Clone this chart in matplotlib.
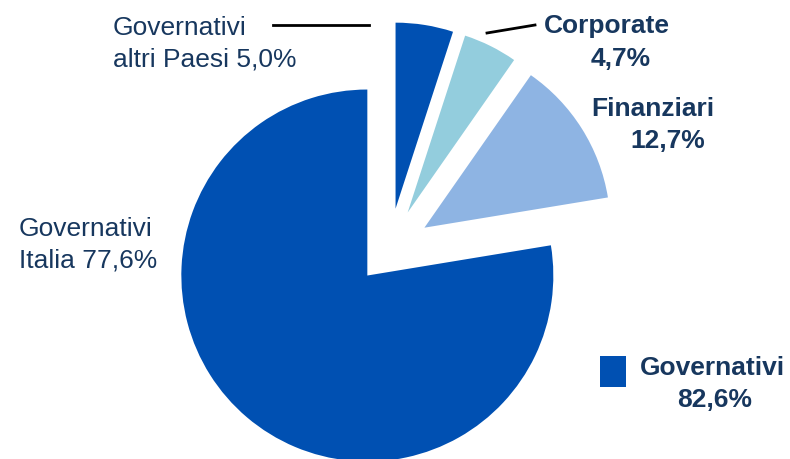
import matplotlib.pyplot as plt
from matplotlib.patches import Rectangle
from matplotlib.lines import Line2D

plt.rcParams['font.family'] = ['Liberation Sans', 'DejaVu Sans']

# data (order: counter-clockwise from 12 o'clock)
labels = ['Governativi Italia', 'Finanziari', 'Corporate', 'Governativi altri Paesi']
values = [77.6, 12.7, 4.7, 5.0]
colors = ['#0050B2', '#8EB4E3', '#93CDDD', '#0050B2']
explode = [0.18, 0.225, 0.225, 0.225]
legend_label = 'Governativi'
legend_value = values[0] + values[3]

text_color = '#17375E'
W, H = 790, 460
R = 186.0          # pie radius in pixels
cx, cy = 389, 251  # pie centre in pixels (from top-left)

fig = plt.figure(figsize=(W / 100, H / 100), dpi=100)
ax = fig.add_axes([0, 0, 1, 1])
ax.pie(values, colors=colors, explode=explode, startangle=90,
       counterclock=True, radius=1, wedgeprops=dict(linewidth=0))
ax.set_xlim(-cx / R, (W - cx) / R)
ax.set_ylim(-(H - cy) / R, cy / R)
ax.axis('off')


def fx(x):
    return x / W


def fy(y):
    return 1 - y / H


def put(x, y, s, bold=False):
    fig.text(fx(x), fy(y), s, fontsize=19, color=text_color,
             fontweight='bold' if bold else 'normal',
             ha='left', va='baseline')


pct = lambda v: f'{v:.1f}%'.replace('.', ',')

# Governativi altri Paesi
put(113, 35, 'Governativi')
put(113, 66, 'altri Paesi ' + pct(values[3]))
fig.add_artist(Line2D([fx(273), fx(369)], [fy(26), fy(26)], color='black', lw=2))

# Corporate
put(544, 33, 'Corporate', bold=True)
put(591, 66, pct(values[2]), bold=True)
fig.add_artist(Line2D([fx(487), fx(535)], [fy(34), fy(26)], color='black', lw=2))

# Finanziari
put(591, 116, 'Finanziari', bold=True)
put(630, 148, pct(values[1]), bold=True)

# Governativi Italia
put(19, 236, 'Governativi')
put(19, 268, 'Italia ' + pct(values[0]))

# legend-like key
fig.add_artist(Rectangle((fx(600), fy(388)), 26 / W, 31 / H,
                         facecolor=colors[0], edgecolor='none',
                         transform=fig.transFigure))
put(640, 375, legend_label, bold=True)
put(677, 407, pct(legend_value), bold=True)

fig.savefig('out.png', dpi=100)
